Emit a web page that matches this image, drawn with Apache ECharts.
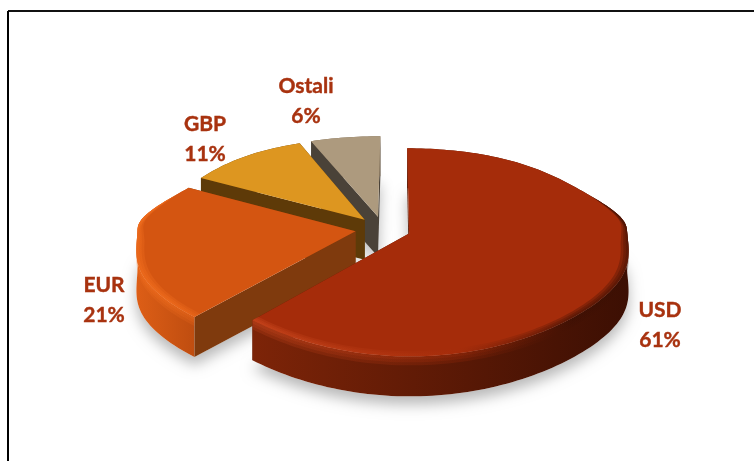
<!DOCTYPE html>
<html>
<head>
<meta charset="utf-8">
<style>
  html, body { margin: 0; padding: 0; background: #fff; }
  #chart { width: 754px; height: 461px; }
</style>
<script src="https://cdn.jsdelivr.net/npm/echarts@6/dist/echarts.min.js"></script>
</head>
<body>
<div id="chart"></div>
<script>
const categories = ["USD", "EUR", "GBP", "Ostali"];
const shares = [61, 21, 11, 6];

const labelLeft = [660, 104, 205, 306];
const labelTop = [295, 270, 109, 71];

// look of each slice: [top, inner wall, outer wall left, outer wall right, rim left, rim middle, rim right]
const looks = [
  ["#a52c0a", "#5e1c06", "#7d2408", "#3c0f03", "#cf4a20", "#a52c0a", "#3c0f03"],
  ["#d45511", "#7f3a0d", "#dd5e16", "#bf4d10", "#f4701f", "#f4701f", "#ee6a1c"],
  ["#dd9620", "#5e3a08", "#6b4209", "#6b4209", "#dd9620", "#dd9620", "#dd9620"],
  ["#ad9a7e", "#4a4238", "#7a6a55", "#7a6a55", "#ad9a7e", "#ad9a7e", "#ad9a7e"]
];

// flat projection of the tilted pie
const cx = 383, cy = 229, radX = 218, radY = 99, vanishX = 396;
const perspBack = 0.17, perspFront = 0.08, perspY = 0.179, explode = 0.128, depth = 40;

function project(u, v, drop) {
  const ease = 1 - Math.exp(-(v * v) / 0.16);
  const wx = v < 0 ? 1 + perspBack * ease : 1 - perspFront * ease;
  return [
    vanishX + (cx + radX * u - vanishX) / wx,
    cy + radY * v / (1 - perspY * v) + (drop || 0)
  ];
}

const total = shares.reduce((a, b) => a + b, 0);

function sliceAngles(idx) {
  let before = 0;
  for (let i = 0; i < idx; i++) before += shares[i];
  const start = before / total * Math.PI * 2;
  return [start, start + shares[idx] / total * Math.PI * 2];
}

function renderSlice(params, api) {
  const idx = api.value(0);
  const [a0, a1] = sliceAngles(idx);
  const look = looks[idx];
  const mid = (a0 + a1) / 2;
  const u0 = explode * Math.sin(mid), v0 = -explode * Math.cos(mid);

  const angles = [];
  const steps = Math.ceil((a1 - a0) * 40);
  for (let i = 0; i <= steps; i++) angles.push(a0 + (a1 - a0) * i / steps);
  const onArc = (a, r) => [u0 + r * Math.sin(a), v0 - r * Math.cos(a)];
  const arc = angles.map(a => onArc(a, 1));

  const at = (p, drop) => project(p[0], p[1], drop);
  const apex = [u0, v0];
  const first = arc[0], last = arc[arc.length - 1];

  const topPts = [at(apex)].concat(arc.map(p => at(p)));
  const shadowPts = [at(apex, depth)].concat(arc.map(p => at(p, depth)));
  const outerPts = arc.map(p => at(p)).concat(arc.slice().reverse().map(p => at(p, depth)));
  const wallPts = p => [at(apex), at(p), at(p, depth), at(apex, depth)];
  const gradient = (from, to) => ({
    type: "linear", x: 0, y: 0, x2: 1, y2: 0,
    colorStops: [{ offset: 0, color: from }, { offset: 1, color: to }]
  });

  const kids = [
    {
      type: "polygon", shape: { points: shadowPts },
      style: { fill: "#fff", shadowBlur: 14, shadowOffsetY: 8, shadowColor: "rgba(0,0,0,0.28)" }
    },
    { type: "polygon", shape: { points: wallPts(last) }, style: { fill: look[1] } },
    { type: "polygon", shape: { points: outerPts }, style: { fill: gradient(look[2], look[3]) } },
    { type: "polygon", shape: { points: wallPts(first) }, style: { fill: look[1] } },
    { type: "polygon", shape: { points: topPts }, style: { fill: look[0] } }
  ];

  // rounded front edge: thin bands that taper off towards the back of the pie
  if (idx < 2) {
    const taper = a => Math.max(0, Math.min(1, (0.4 - Math.cos(a)) / 0.5));
    const rimFill = {
      type: "linear", x: 0, y: 0, x2: 1, y2: 0,
      colorStops: [
        { offset: 0, color: look[4] },
        { offset: 0.55, color: look[5] },
        { offset: 0.85, color: look[6] },
        { offset: 1, color: look[6] }
      ]
    };
    [0.035, 0.023, 0.012].forEach(d => {
      const inner = angles.map(a => at(onArc(a, 1 - d * taper(a))));
      kids.push({
        type: "polygon",
        shape: { points: arc.map(p => at(p)).concat(inner.reverse()) },
        style: { fill: rimFill, opacity: 0.3 }
      });
    });
    [3, 6, 9].forEach(drop => {
      const lower = angles.map(a => at(onArc(a, 1), drop * taper(a)));
      kids.push({
        type: "polygon",
        shape: { points: arc.map(p => at(p)).concat(lower.reverse()) },
        style: { fill: rimFill, opacity: 0.22 }
      });
    });
  }
  return { type: "group", children: kids };
}

const chart = echarts.init(document.getElementById("chart"), null, { renderer: "canvas" });

chart.setOption({
  animation: false,
  backgroundColor: "#fff",
  graphic: [
    { type: "line", shape: { x1: 8, y1: 11, x2: 754, y2: 11 }, style: { stroke: "#111", lineWidth: 2 } },
    { type: "line", shape: { x1: 8, y1: 11, x2: 8, y2: 461 }, style: { stroke: "#000", lineWidth: 2 } }
  ].concat(categories.map((c, i) => ({
    type: "text",
    x: labelLeft[i],
    y: labelTop[i],
    z: 10,
    style: {
      text: c + "\n" + shares[i] + "%",
      fill: "#a8320f",
      stroke: "#a8320f",
      lineWidth: 0.4,
      font: "bold 21px Lato",
      lineHeight: 30,
      align: "center",
      verticalAlign: "top"
    }
  }))),
  series: [{
    type: "custom",
    coordinateSystem: "none",
    renderItem: renderSlice,
    silent: true,
    // painted back to front
    data: [[3], [2], [1], [0]]
  }]
});
</script>
</body>
</html>
